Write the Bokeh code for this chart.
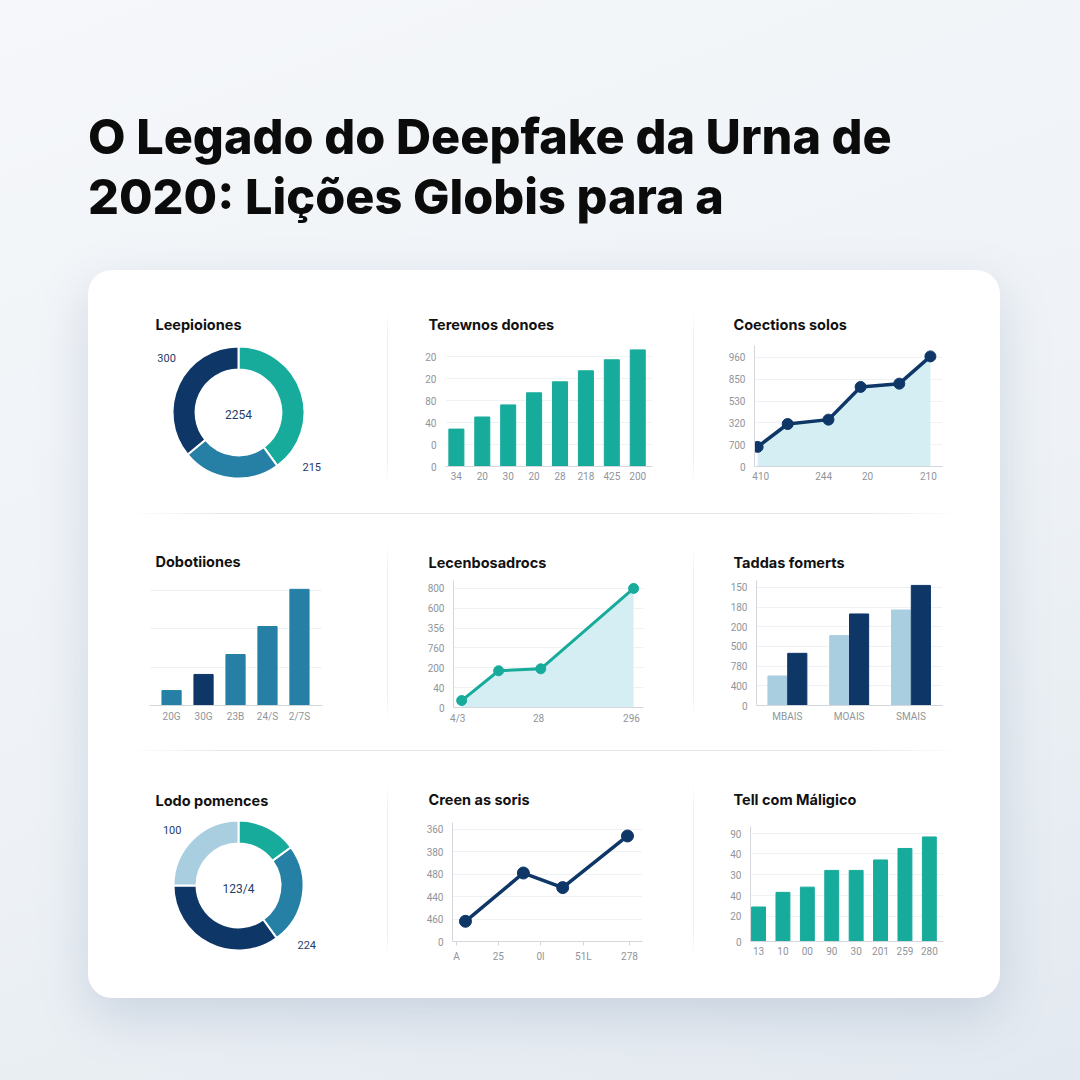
import math
from bokeh.plotting import figure
from bokeh.layouts import column, row
from bokeh.models import Div, Label, FixedTicker, Range1d, Title
from bokeh.embed import file_html
from bokeh.resources import INLINE

# ---------------- data ----------------
title_lines = ["O Legado do Deepfake da Urna de", "2020: Lições Globis para a"]

p1_title = "Leepioiones"
p1_values = [40, 24, 36]
p1_labels = ["300", "2254", "215"]

p2_title = "Terewnos donoes"
p2_cats = ["34", "20", "30", "20", "28", "218", "425", "200"]
p2_values = [34, 45, 56, 67, 77, 87, 97, 106]
p2_yticks = [0, 20, 40, 60, 80, 100]
p2_ylabels = ["0", "0", "40", "80", "20", "20"]

p3_title = "Coections solos"
p3_x = [0, 0.87, 2.05, 2.98, 4.1, 5]
p3_y = [18, 39, 43, 73, 76, 101]
p3_xticks = [0.09, 1.91, 3.18, 4.94]
p3_xlabels = ["410", "244", "20", "210"]
p3_yticks = [0, 20, 40, 60, 80, 100]
p3_ylabels = ["0", "700", "320", "530", "850", "960"]

p4_title = "Dobotiiones"
p4_cats = ["20G", "30G", "23B", "24/S", "2/7S"]
p4_values = [39, 81, 133, 206, 303]
p4_yticks = [0, 100, 200, 300]

p5_title = "Lecenbosadrocs"
p5_x = [0, 0.86, 1.84, 4]
p5_y = [7, 37, 39, 120]
p5_xticks = [-0.09, 1.79, 3.95]
p5_xlabels = ["4/3", "28", "296"]
p5_yticks = [0, 20, 40, 60, 80, 100, 120]
p5_ylabels = ["0", "40", "200", "760", "356", "600", "800"]

p6_title = "Taddas fomerts"
p6_cats = ["MBAIS", "MOAIS", "SMAIS"]
p6_light = [30, 71, 97]
p6_dark = [53, 93, 122]
p6_yticks = [0, 20, 40, 60, 80, 100, 120]
p6_ylabels = ["0", "400", "780", "500", "200", "180", "150"]

p7_title = "Lodo pomences"
p7_values = [15, 25, 35, 25]
p7_labels = ["100", "123/4", "224"]

p8_title = "Creen as soris"
p8_x = [0, 1.43, 2.4, 4]
p8_y = [18, 61, 48, 94]
p8_xticks = [-0.22, 0.81, 1.85, 2.91, 4.05]
p8_xlabels = ["A", "25", "0l", "51L", "278"]
p8_yticks = [0, 20, 40, 60, 80, 100]
p8_ylabels = ["0", "460", "440", "480", "380", "360"]

p9_title = "Tell com Máligico"
p9_cats = ["13", "10", "00", "90", "30", "201", "259", "280"]
p9_values = [33, 47, 52, 68, 68, 78, 89, 100]
p9_yticks = [0, 24, 44, 64, 84, 103]
p9_ylabels = ["0", "20", "40", "30", "40", "90"]

# ---------------- styles ----------------
TEAL = "#17ab9b"
NAVY = "#0e3768"
MID = "#2680a6"
LIGHT = "#a9cee0"
FILL = "#d5eef3"
GRID = "#eff2f5"
AXIS = "#d3d7db"
TICKC = "#8f959b"
LABELC = "#1f3d68"
FONT = "Inter"
TFONT = "Roboto"

COLS = [(88, 299), (388, 305), (694, 306)]
ROWS = [(270, 243), (514, 236), (751, 247)]


def cell(r, c):
    return (COLS[c][0], ROWS[r][0], COLS[c][1], ROWS[r][1])


def base_fig(cl, frame, xr, yr, text, tpos, axes=True):
    cx, cy, cw, ch = cl
    fx0, fy0, fx1, fy1 = frame
    kw = {}
    if not axes:
        kw = dict(x_axis_location=None, y_axis_location=None)
    ttl = Title(text=text, align="left", offset=tpos[0] - fx0,
                standoff=max(0, 2 * (fy0 - (tpos[1] + 8))),
                text_font=FONT, text_font_style="bold", text_font_size="14.5px",
                text_color="#111111")
    p = figure(width=cw, height=ch, x_range=Range1d(*xr), y_range=Range1d(*yr),
               output_backend="svg", toolbar_location=None, tools="",
               min_border_left=fx0 - cx, min_border_right=cx + cw - fx1,
               min_border_top=fy0 - cy, min_border_bottom=cy + ch - fy1,
               background_fill_color=None, border_fill_color=None,
               outline_line_color=None, frame_align=False, title=ttl, **kw)
    p.grid.visible = False
    return p


def style_axes(p, xticks, xlabels, yticks, ylabels, yline=True, xmarks=False, showy=True):
    xa = p.xaxis[0]
    xa.ticker = FixedTicker(ticks=xticks)
    xa.major_label_overrides = {t: l for t, l in zip(xticks, xlabels)}
    xa.axis_line_color = AXIS
    xa.major_tick_line_color = AXIS if xmarks else None
    xa.major_tick_out = 4 if xmarks else 0
    xa.major_tick_in = 0
    xa.minor_tick_line_color = None
    xa.major_label_standoff = 5
    xa.major_label_text_font = TFONT
    xa.major_label_text_font_size = "10px"
    xa.major_label_text_color = TICKC
    ya = p.yaxis[0]
    ya.ticker = FixedTicker(ticks=yticks)
    if ylabels is not None:
        ya.major_label_overrides = {t: l for t, l in zip(yticks, ylabels)}
    ya.axis_line_color = AXIS if yline else None
    ya.major_tick_line_color = None
    ya.major_tick_out = 0
    ya.major_tick_in = 0
    ya.minor_tick_line_color = None
    ya.major_label_standoff = 9
    ya.major_label_text_font = TFONT
    ya.major_label_text_font_size = "10px"
    ya.major_label_text_color = TICKC
    ya.visible = showy
    p.ygrid.visible = True
    p.ygrid.grid_line_color = GRID
    p.ygrid.ticker = FixedTicker(ticks=yticks)


def donut(cl, frame_top, center, r, inner, values, colors, labels, label_pos, title, tpos):
    cx, cy, cw, ch = cl
    frame = (cx, frame_top, cx + cw, cy + ch)
    xr = (-(center[0] - cx) / r, (cx + cw - center[0]) / r)
    yr = (-(cy + ch - center[1]) / r, (center[1] - frame_top) / r)
    p = base_fig(cl, frame, xr, yr, title, tpos, axes=False)
    total = float(sum(values))
    cum = 0.0
    starts, ends = [], []
    for v in values:
        starts.append(math.pi / 2 - 2 * math.pi * cum / total)
        cum += v
        ends.append(math.pi / 2 - 2 * math.pi * cum / total)
    p.annular_wedge(x=0, y=0, inner_radius=inner, outer_radius=1.0,
                    start_angle=starts, end_angle=ends, direction="clock",
                    fill_color=colors, line_color="white", line_width=2)
    for t, (lx, ly), fs in zip(labels, label_pos, ["11px", "12px", "11px"]):
        p.add_layout(Label(x=lx, y=ly, text=t, text_font=TFONT, text_font_size=fs,
                           text_color=LABELC, text_align="center", text_baseline="middle"))
    return p


# ---- panel 1 ----
f1 = donut(cell(0, 0), 344, (238, 412), 66, 0.65, p1_values, [TEAL, MID, NAVY],
           p1_labels, [(-1.09, 0.83), (0, -0.03), (1.11, -0.83)], p1_title, (155, 324))

# ---- panel 2 ----
fr2 = (445, 345, 652, 466)
f2 = base_fig(cell(0, 1), fr2, (-0.42, 7.57), (0, 110), p2_title, (428, 324))
f2.vbar(x=list(range(len(p2_values))), top=p2_values, width=0.58, bottom=0, color=TEAL)
style_axes(f2, list(range(len(p2_cats))), p2_cats, p2_yticks, p2_ylabels, yline=False)

# ---- panel 3 ----
fr3 = (754, 345, 942, 466)
f3 = base_fig(cell(0, 2), fr3, (-0.09, 5.35), (0, 111), p3_title, (733, 324))
f3.varea(x=p3_x, y1=[0] * len(p3_x), y2=p3_y, fill_color=FILL)
f3.line(p3_x, p3_y, line_color=NAVY, line_width=3.5)
f3.scatter(p3_x, p3_y, size=11, color=NAVY)
style_axes(f3, p3_xticks, p3_xlabels, p3_yticks, p3_ylabels)

# ---- panel 4 ----
fr4 = (149, 585, 322, 705)
f4 = base_fig(cell(1, 0), fr4, (-0.69, 4.72), (0, 313), p4_title, (155, 561))
f4.vbar(x=list(range(len(p4_values))), top=p4_values, width=0.6, bottom=0,
        color=[MID, NAVY, MID, MID, MID])
style_axes(f4, list(range(len(p4_cats))), p4_cats, p4_yticks, None, yline=False, showy=False)

# ---- panel 5 ----
fr5 = (453, 580, 643, 707)
f5 = base_fig(cell(1, 1), fr5, (-0.19, 4.23), (0, 128), p5_title, (428, 562))
f5.varea(x=p5_x, y1=[0] * len(p5_x), y2=p5_y, fill_color=FILL)
f5.line(p5_x, p5_y, line_color=TEAL, line_width=3)
f5.scatter(p5_x, p5_y, size=10, color=TEAL)
style_axes(f5, p5_xticks, p5_xlabels, p5_yticks, p5_ylabels)

# ---- panel 6 ----
fr6 = (756, 580, 942, 705)
f6 = base_fig(cell(1, 2), fr6, (-0.5, 2.51), (0, 127), p6_title, (733, 562))
xs6 = list(range(len(p6_cats)))
f6.vbar(x=[x - 0.16 for x in xs6], top=p6_light, width=0.31, bottom=0, color=LIGHT)
f6.vbar(x=[x + 0.16 for x in xs6], top=p6_dark, width=0.31, bottom=0, color=NAVY)
style_axes(f6, xs6, p6_cats, p6_yticks, p6_ylabels)

# ---- panel 7 ----
f7 = donut(cell(2, 0), 818, (238, 885), 65, 0.646, p7_values, [TEAL, MID, NAVY, LIGHT],
           p7_labels, [(-1.02, 0.86), (0, -0.05), (1.05, -0.91)], p7_title, (155, 800))

# ---- panel 8 ----
fr8 = (452, 822, 642, 941)
f8 = base_fig(cell(2, 1), fr8, (-0.32, 4.37), (0, 106), p8_title, (428, 799))
f8.line(p8_x, p8_y, line_color=NAVY, line_width=3.5)
f8.scatter(p8_x, p8_y, size=12, color=NAVY)
style_axes(f8, p8_xticks, p8_xlabels, p8_yticks, p8_ylabels, xmarks=True)

# ---- panel 9 ----
fr9 = (750, 826, 943, 941)
f9 = base_fig(cell(2, 2), fr9, (-0.33, 7.58), (0, 110), p9_title, (733, 799))
f9.vbar(x=list(range(len(p9_values))), top=p9_values, width=0.57, bottom=0, color=TEAL)
style_axes(f9, list(range(len(p9_cats))), p9_cats, p9_yticks, p9_ylabels)

# ---------------- layout ----------------
VGRAD = "linear-gradient(180deg, rgba(232,236,240,0), #eceff2 15%, #eceff2 85%, rgba(232,236,240,0))"
HGRAD = "linear-gradient(90deg, rgba(226,230,234,0), #e2e6ea 12%, #e2e6ea 88%, rgba(226,230,234,0))"


def vsep(top, h):
    return Div(text="", width=1, height=h, margin=(top, 0, 0, 0), styles={"background": VGRAD})


def hsep():
    return Div(text="", width=830, height=1, margin=(0, 0, 0, 42), styles={"background": HGRAD})


row1 = row(f1, vsep(40, 175), f2, vsep(40, 175), f3)
row2 = row(f4, vsep(31, 175), f5, vsep(31, 175), f6)
row3 = row(f7, vsep(32, 174), f8, vsep(32, 174), f9)

card = column(row1, hsep(), row2, hsep(), row3, width=912, height=728,
              margin=(43, 0, 0, 88),
              styles={"background-color": "#ffffff", "border-radius": "24px",
                      "box-shadow": "0 18px 50px rgba(90,120,155,0.22)", "overflow": "hidden"})

title_div = Div(text="<br>".join(title_lines), width=980, height=120, margin=(107, 0, 0, 88),
                styles={"font-family": "Inter, sans-serif", "font-weight": "800",
                        "font-size": "48.6px", "line-height": "60px", "color": "#0b0b0b"})

root = column(title_div, card, width=1080, height=1080,
              styles={"background": "linear-gradient(160deg, #f5f7fa 0%, #eef2f6 55%, #e3e9f0 100%)"})

open("out.html", "w").write(file_html(root, INLINE))
